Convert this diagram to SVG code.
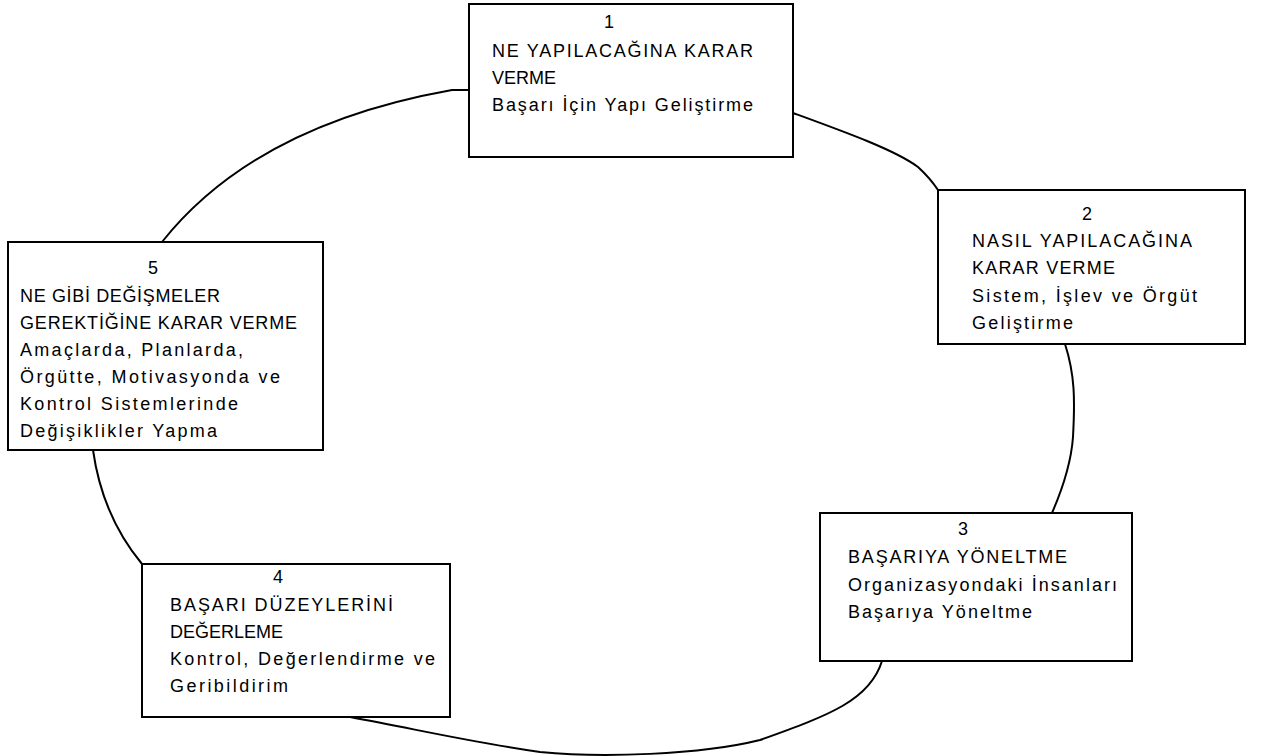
<svg xmlns="http://www.w3.org/2000/svg" width="1261" height="756" viewBox="0 0 1261 756">
<style>
.box{fill:#fff;stroke:#000;stroke-width:2}
.con{fill:none;stroke:#000;stroke-width:2;stroke-linejoin:round}
text{font-family:"Liberation Sans",Arial,sans-serif;font-size:18px;fill:#000}
.num{text-anchor:middle}
</style>
<rect x="0" y="0" width="1261" height="756" fill="#fff"/>
<g id="connectors">
<path class="con" d="M162,242 Q255,125 452,90 L469,90"/>
<path class="con" d="M793,113 C845,132 895,150 918,167 Q930,178 938,190"/>
<path class="con" d="M1065,344 C1075,375 1075,400 1073,437 C1071,465 1062,490 1052,513"/>
<path class="con" d="M882,661 C870,700 830,715 760,740 C700,755 600,758 540,752 C470,742 420,730 350,717"/>
<path class="con" d="M93,450 C100,500 118,535 142,564"/>
</g>
<g id="node1">
<rect class="box" x="469" y="4" width="324" height="153"/>
<text class="num" x="609" y="28">1</text>
<text x="492" y="57" textLength="261" lengthAdjust="spacing">NE YAPILACAĞINA KARAR</text>
<text x="492" y="84">VERME</text>
<text x="492" y="111" textLength="261" lengthAdjust="spacing">Başarı İçin Yapı Geliştirme</text>
</g>
<g id="node2">
<rect class="box" x="938" y="190" width="307" height="154"/>
<text class="num" x="1087" y="220">2</text>
<text x="972" y="247" textLength="220" lengthAdjust="spacing">NASIL YAPILACAĞINA</text>
<text x="972" y="274" textLength="143" lengthAdjust="spacing">KARAR VERME</text>
<text x="972" y="302" textLength="225" lengthAdjust="spacing">Sistem, İşlev ve Örgüt</text>
<text x="972" y="329" textLength="101" lengthAdjust="spacing">Geliştirme</text>
</g>
<g id="node3">
<rect class="box" x="820" y="513" width="312" height="148"/>
<text class="num" x="963" y="535">3</text>
<text x="848" y="563" textLength="219" lengthAdjust="spacing">BAŞARIYA YÖNELTME</text>
<text x="848" y="591" textLength="269" lengthAdjust="spacing">Organizasyondaki İnsanları</text>
<text x="848" y="618" textLength="184" lengthAdjust="spacing">Başarıya Yöneltme</text>
</g>
<g id="node4">
<rect class="box" x="142" y="564" width="308" height="153"/>
<text class="num" x="278" y="583">4</text>
<text x="170" y="611" textLength="223" lengthAdjust="spacing">BAŞARI DÜZEYLERİNİ</text>
<text x="170" y="638">DEĞERLEME</text>
<text x="170" y="665" textLength="265" lengthAdjust="spacing">Kontrol, Değerlendirme ve</text>
<text x="170" y="692" textLength="118" lengthAdjust="spacing">Geribildirim</text>
</g>
<g id="node5">
<rect class="box" x="8" y="242" width="315" height="208"/>
<text class="num" x="153" y="274">5</text>
<text x="20" y="302" textLength="200" lengthAdjust="spacing">NE GİBİ DEĞİŞMELER</text>
<text x="20" y="329" textLength="277" lengthAdjust="spacing">GEREKTİĞİNE KARAR VERME</text>
<text x="20" y="356" textLength="223" lengthAdjust="spacing">Amaçlarda, Planlarda,</text>
<text x="20" y="383" textLength="260" lengthAdjust="spacing">Örgütte, Motivasyonda ve</text>
<text x="20" y="410" textLength="218" lengthAdjust="spacing">Kontrol Sistemlerinde</text>
<text x="20" y="437" textLength="197" lengthAdjust="spacing">Değişiklikler Yapma</text>
</g>
</svg>
